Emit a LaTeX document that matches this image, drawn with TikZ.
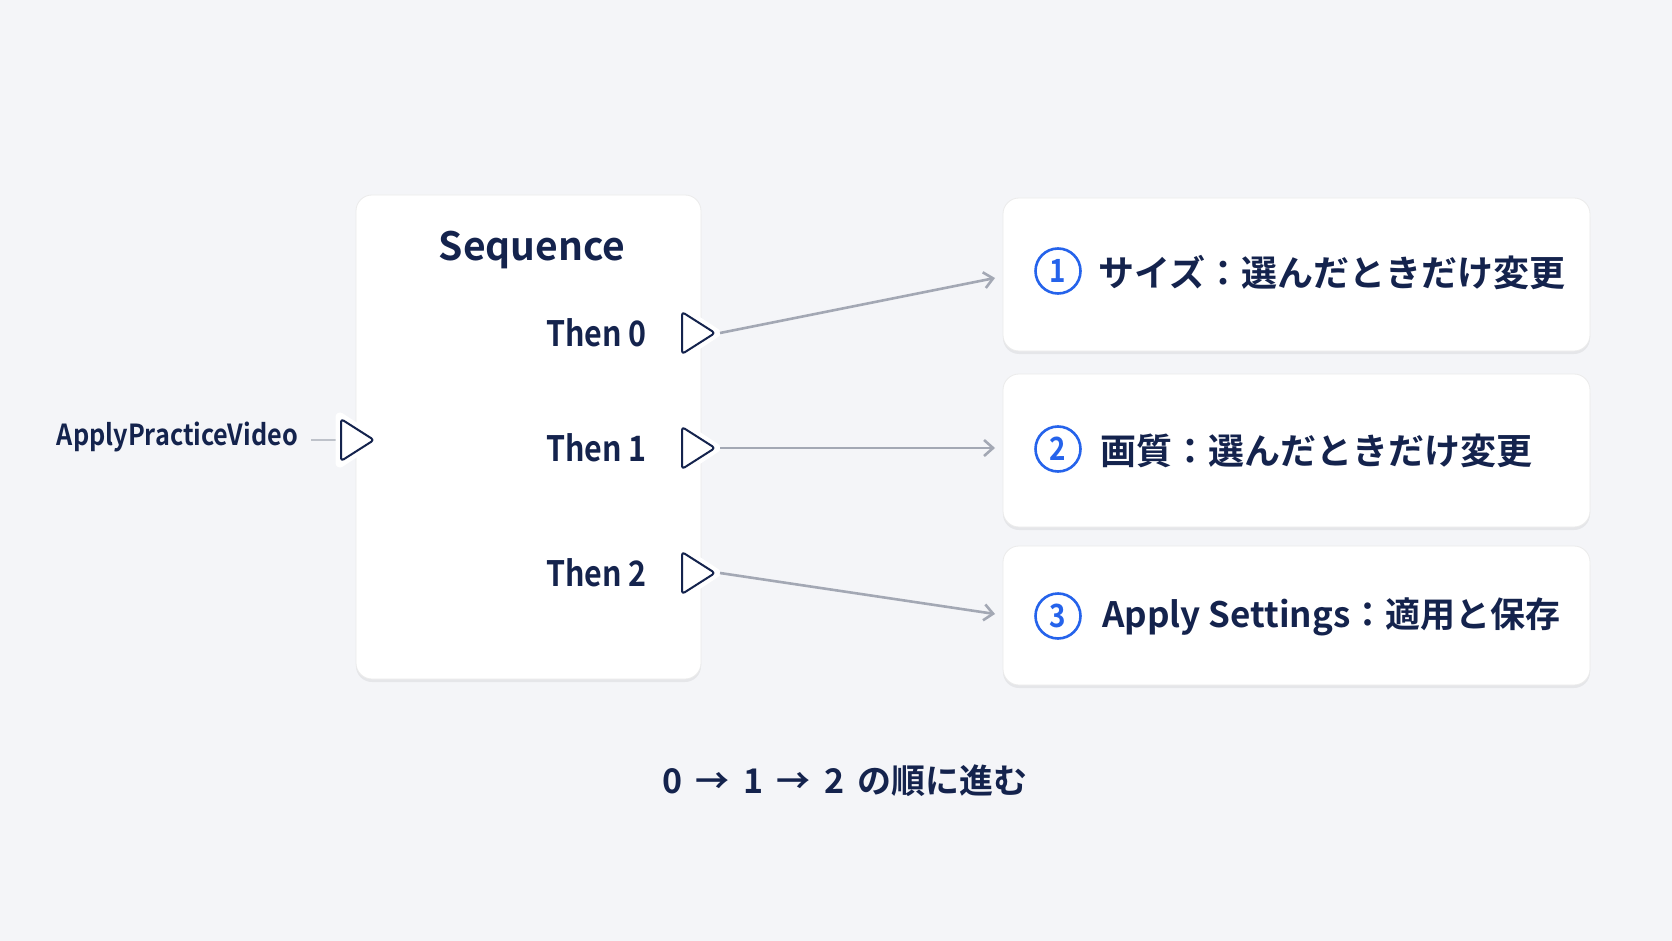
\documentclass[tikz,border=0pt]{standalone}
\usepackage{fontspec}
\setmainfont{Noto Sans CJK JP}[BoldFont={Noto Sans CJK JP Bold}]
\newfontfamily\condfont{Noto Sans CJK JP Bold}[FakeStretch=0.87]
\usetikzlibrary{shadows,arrows.meta}
\definecolor{bg}{HTML}{F4F5F8}
\definecolor{ink}{HTML}{14234D}
\definecolor{accent}{HTML}{2563EB}
\definecolor{wire}{HTML}{A3A8B4}
\newcommand{\myport}[3]{%
  \draw[white,line width=9pt,line join=round] (#1-17,#2-23) -- (#1+18,#2) -- (#1-17,#2+23) -- cycle;
  \draw[ink,line width=2pt,fill=white,rounded corners=3pt,line join=round] (#1-16,#2-21) -- (#1+17,#2) -- (#1-16,#2+21) -- cycle;
  \coordinate (#3) at (#1+22,#2);}
\begin{document}
\begin{tikzpicture}[x=1pt,y=-1pt,
  card/.style={draw=black!8,fill=white,rounded corners=16pt,line width=0.8pt,
    drop shadow={shadow xshift=0pt,shadow yshift=-3pt,opacity=0.10,fill=black!60}},
  lbl/.style={font=\condfont\fontsize{35}{38}\selectfont,text=ink,inner sep=0pt},
  item/.style={font=\bfseries\fontsize{36}{39}\selectfont,text=ink,inner sep=0pt,anchor=west},
  num/.style={circle,draw=accent,line width=2.6pt,minimum size=45pt,inner sep=0pt,text=accent,font=\condfont\fontsize{32}{34}\selectfont},
  link/.style={wire,line width=2.6pt,-{Straight Barb[length=9pt,width=16pt,line width=2.6pt]}}]
\useasboundingbox (0,0) rectangle (1672,941);
\fill[bg] (0,0) rectangle (1672,941);
% sequence card
\path[card] (356,195) rectangle (701,679);
\node[font=\bfseries\fontsize{39}{44}\selectfont,text=ink] (seq) at (532,250) {Sequence};
\node[lbl,anchor=east] (t0) at (647,333) {Then 0};
\node[lbl,anchor=east] (t1) at (647,448) {Then 1};
\node[lbl,anchor=east] (t2) at (647,573) {Then 2};
\node[font=\condfont\fontsize{29}{32}\selectfont,text=ink,inner sep=0pt,anchor=east] (apv) at (298,437) {ApplyPracticeVideo};
\coordinate (inA) at (311,440);
\coordinate (inB) at (338,440);
\draw[wire!70,line width=1.6pt] (inA) -- (inB);
\myport{357}{440}{pin}
\myport{698}{333}{p0}
\myport{698}{448}{p1}
\myport{698}{573}{p2}
% result cards
\path[card] (1003,198) rectangle (1590,351);
\path[card] (1003,374) rectangle (1590,527);
\path[card] (1003,546) rectangle (1590,685);
\node[num] (n1) at (1058,271) {1};
\node[num] (n2) at (1058,449) {2};
\node[num] (n3) at (1058,616) {3};
\node[item] (s1) at (1098,273) {サイズ：選んだときだけ変更};
\node[item] (s2) at (1100,451) {画質：選んだときだけ変更};
\node[item,font=\bfseries\fontsize{35}{38}\selectfont] (s3) at (1102,617) {Apply Settings：適用と保存};
\coordinate (e0) at (995,278);
\coordinate (e1) at (995,448);
\coordinate (e2) at (995,614);
\draw[link] (p0) -- (e0);
\draw[link] (p1) -- (e1);
\draw[link] (p2) -- (e2);
\node[font=\bfseries\fontsize{34}{38}\selectfont,text=ink] (foot) at (845,781) {0 \,→\, 1 \,→\, 2 \,の順に進む};
\end{tikzpicture}
\end{document}
